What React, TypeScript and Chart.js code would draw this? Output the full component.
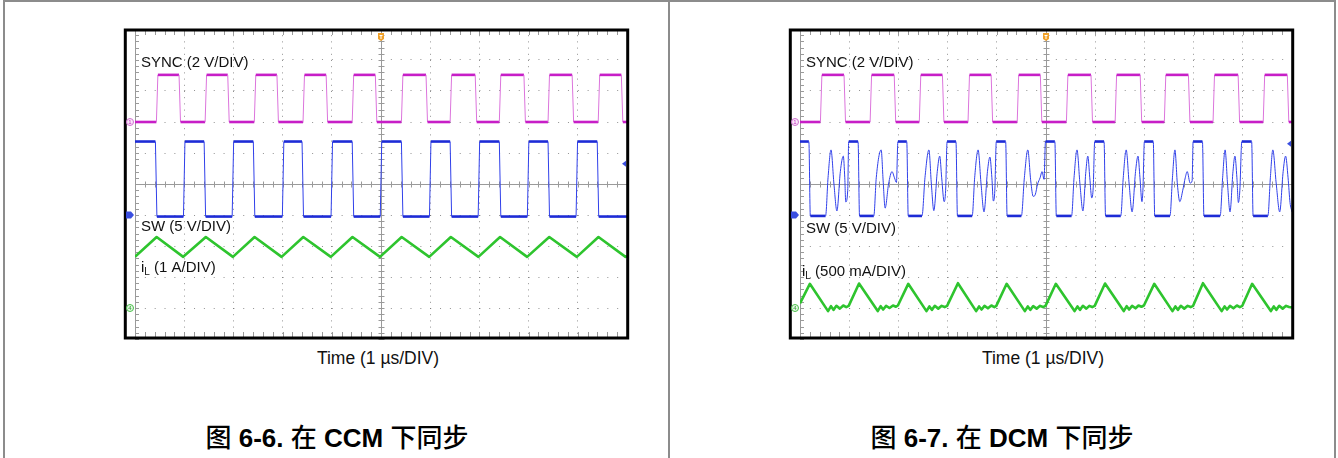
import React, { useEffect, useRef } from "react";
import { Chart, registerables } from "chart.js";

Chart.register(...registerables);

// ---------------- data (units: graticule divisions; x: 1 µs/DIV) ----------------
// CCM panel
const ccmSyncLevels = [2.0, 3.52]; // [low, high]
const ccmSyncRise = [-4.55, -3.56, -2.56, -1.57, -0.57, 0.43, 1.42, 2.42, 3.41, 4.43];
const ccmSyncFall = [-4.09, -3.1, -2.1, -1.1, -0.1, 0.93, 1.93, 2.92, 3.9, 4.9];
const ccmSwLevels = [-1.05, 1.37];
const ccmSwRise = [-4.0, -3.01, -1.99, -1.0, 0.0, 1.0, 1.99, 2.99, 3.98];
const ccmSwFall = [-4.57, -3.58, -2.58, -1.59, -0.57, 0.43, 1.42, 2.42, 3.41, 4.41];
const ccmIlT = [-5.0, -4.56, -4.02, -3.56, -3.01, -2.57, -2.02, -1.58, -1.02, -0.58, -0.02, 0.42, 0.98, 1.42, 1.98, 2.42, 2.97, 3.42, 3.98, 4.42, 4.97, 5.0];
const ccmIlV = [-2.35, -1.71, -2.35, -1.71, -2.35, -1.71, -2.35, -1.71, -2.35, -1.71, -2.35, -1.71, -2.35, -1.71, -2.35, -1.71, -2.35, -1.71, -2.35, -1.71, -2.35, -2.33];

// DCM panel
const dcmSyncLevels = [2.0, 3.52];
const dcmSyncRise = [-4.57, -3.56, -2.56, -1.57, -0.57, 0.43, 1.42, 2.42, 3.41, 4.43];
const dcmSyncFall = [-4.09, -3.07, -2.09, -1.1, -0.1, 0.93, 1.93, 2.91, 3.92, 4.92];
const dcmSwT = [
  -5.0, -4.82, -4.79, -4.48, -4.43, -4.37, -4.31, -4.25, -4.18, -4.12, -4.09, -4.07, -4.03, -4.01,
  -3.82, -3.79, -3.5, -3.45, -3.35, -3.31, -3.27, -3.2, -3.13, -3.08, -3.04, -3.01,
  -2.83, -2.8, -2.52, -2.46, -2.38, -2.33, -2.28, -2.21, -2.16, -2.12, -2.07, -2.04, -2.01,
  -1.83, -1.8, -1.5, -1.45, -1.38, -1.32, -1.26, -1.19, -1.14, -1.1, -1.07, -1.04, -1.01,
  -0.82, -0.79, -0.5, -0.44, -0.37, -0.31, -0.26, -0.22, -0.17, -0.12, -0.08, -0.04, -0.01,
  0.18, 0.21, 0.52, 0.57, 0.63, 0.69, 0.75, 0.81, 0.85, 0.89, 0.93, 0.96, 0.99,
  1.18, 1.21, 1.52, 1.57, 1.63, 1.69, 1.75, 1.82, 1.87, 1.91, 1.95, 1.97, 2.0,
  2.18, 2.21, 2.52, 2.57, 2.62, 2.67, 2.72, 2.78, 2.83, 2.87, 2.93, 2.97, 2.99,
  3.18, 3.21, 3.54, 3.59, 3.64, 3.69, 3.74, 3.8, 3.84, 3.88, 3.91, 3.94, 3.98,
  4.18, 4.21, 4.51, 4.56, 4.61, 4.68, 4.75, 4.82, 4.87, 4.92, 4.96, 5.0,
];
const dcmSwV = [
  1.37, 1.37, -1.03, -1.03, 0.2, 1.1, 0.0, -0.87, 0.4, 0.9, 0.2, -0.58, -0.2, 1.37,
  1.37, -1.03, -1.03, 0.2, 1.1, 0.1, -0.78, 0.0, 0.4, 0.2, 0.05, 1.37,
  1.37, -1.03, -1.03, 0.2, 1.1, 0.0, -0.86, 0.4, 0.9, 0.2, -0.57, -0.2, 1.37,
  1.37, -1.03, -1.03, 0.2, 1.1, 0.0, -0.9, 0.4, 0.87, 0.2, -0.55, -0.2, 1.37,
  1.37, -1.03, -1.03, 0.2, 1.1, 0.1, -0.4, -0.35, 0.0, 0.2, 0.4, 0.15, 1.37,
  1.37, -1.03, -1.03, 0.2, 1.1, 0.0, -0.87, 0.4, 0.9, 0.2, -0.45, -0.1, 1.37,
  1.37, -1.03, -1.03, 0.2, 1.1, 0.0, -0.9, 0.4, 0.9, 0.2, -0.57, -0.2, 1.37,
  1.37, -1.03, -1.03, 0.2, 1.1, 0.0, -0.57, -0.2, 0.2, 0.4, 0.03, 0.1, 1.37,
  1.37, -1.03, -1.03, 0.2, 1.1, 0.0, -0.9, 0.4, 0.9, 0.2, -0.6, -0.2, 1.37,
  1.37, -1.03, -1.03, 0.2, 1.1, 0.0, -0.9, 0.4, 0.9, 0.2, -0.6, -0.9,
];
const dcmIlT = [
  -5.0, -4.8, -4.43, -4.37, -4.32, -4.26, -4.19, -4.12, -4.06, -4.01,
  -3.8, -3.42, -3.36, -3.31, -3.25, -3.18, -3.11, -3.05, -3.01,
  -2.8, -2.43, -2.37, -2.32, -2.26, -2.19, -2.12, -2.06, -2.01,
  -1.79, -1.42, -1.36, -1.31, -1.25, -1.18, -1.11, -1.05, -1.01,
  -0.8, -0.43, -0.37, -0.32, -0.26, -0.19, -0.12, -0.06, -0.01,
  0.2, 0.58, 0.64, 0.69, 0.75, 0.82, 0.88, 0.94, 0.99,
  1.2, 1.58, 1.64, 1.69, 1.75, 1.82, 1.88, 1.94, 1.99,
  2.2, 2.57, 2.63, 2.68, 2.74, 2.81, 2.88, 2.94, 2.99,
  3.19, 3.57, 3.63, 3.68, 3.74, 3.81, 3.88, 3.94, 3.99,
  4.19, 4.57, 4.63, 4.68, 4.74, 4.81, 4.88, 4.94, 5.0,
];
const dcmIlV = [
  -3.85, -3.22, -4.1, -3.94, -4.06, -3.93, -4.02, -3.92, -3.97, -3.93,
  -3.21, -4.1, -3.94, -4.05, -3.93, -4.0, -3.92, -3.96, -3.92,
  -3.22, -4.1, -3.95, -4.06, -3.93, -4.02, -3.93, -3.97, -3.93,
  -3.2, -4.1, -3.95, -4.05, -3.93, -4.01, -3.92, -3.97, -3.93,
  -3.22, -4.1, -3.95, -4.06, -3.94, -4.02, -3.93, -3.97, -3.93,
  -3.22, -4.1, -3.95, -4.06, -3.93, -4.02, -3.93, -3.97, -3.93,
  -3.21, -4.1, -3.94, -4.05, -3.93, -4.01, -3.92, -3.96, -3.92,
  -3.22, -4.1, -3.95, -4.06, -3.93, -4.02, -3.93, -3.97, -3.93,
  -3.2, -4.1, -3.95, -4.05, -3.93, -4.01, -3.92, -3.97, -3.93,
  -3.22, -4.1, -3.95, -4.06, -3.93, -4.02, -3.93, -3.97, -3.98,
];

// text
const ccmLabels = ["SYNC (2 V/DIV)", "SW (5 V/DIV)", " (1 A/DIV)"];
const dcmLabels = ["SYNC (2 V/DIV)", "SW (5 V/DIV)", " (500 mA/DIV)"];
const xAxisLabel = "Time (1 µs/DIV)";
const captions = ["图 6-6. 在 CCM 下同步", "图 6-7. 在 DCM 下同步"];

// ---------------- helpers ----------------
const FONT = '"Liberation Sans", Arial, Helvetica, sans-serif';
const COLORS = {
  syncFlat: "#c71ec7",
  syncEdge: "#dc74dc",
  swFlat: "#1d2bd6",
  swEdge: "#3040ea",
  il: "#2ec42e",
  grid: "rgba(110,110,110,0.75)",
  axis: "#9a9a9a",
};

type Pt = { x: number; y: number };

function zipPoints(t: number[], v: number[]): Pt[] {
  return t.map((x, i) => ({ x, y: v[i] }));
}

function stepPoints(rises: number[], falls: number[], levels: number[], startHigh: boolean): Pt[] {
  const [lo, hi] = levels;
  const half = 0.015;
  const ev = [
    ...rises.map((t) => ({ t, up: true })),
    ...falls.map((t) => ({ t, up: false })),
  ].sort((a, b) => a.t - b.t);
  const pts: Pt[] = [{ x: -5, y: startHigh ? hi : lo }];
  for (const e of ev) {
    pts.push({ x: e.t - half, y: e.up ? lo : hi });
    pts.push({ x: e.t + half, y: e.up ? hi : lo });
  }
  pts.push({ x: 5, y: pts[pts.length - 1].y });
  return pts;
}

const isFlat = (c: any) => Math.abs(c.p0.parsed.y - c.p1.parsed.y) < 1e-9;
const segStyle = (flat: string, edge: string) => ({
  borderColor: (c: any) => (isFlat(c) ? flat : edge),
  borderWidth: (c: any) => (isFlat(c) ? 2.6 : 1),
});

type PanelSpec = {
  sync: Pt[];
  sw: Pt[];
  swSmooth: boolean;
  il: Pt[];
  labels: string[];
  labelPos: { x: number; y: number }[]; // pixel offsets from graticule top-left
  rightMarker: number; // division value
};

function makeDeco(spec: PanelSpec) {
  return {
    id: "scopeDeco",
    beforeDatasetsDraw(chart: any) {
      const { ctx, chartArea: a, scales } = chart;
      const xs = scales.x;
      const ys = scales.y;
      ctx.save();
      ctx.strokeStyle = COLORS.axis;
      ctx.lineWidth = 1;
      const ln = (x1: number, y1: number, x2: number, y2: number) => {
        ctx.beginPath();
        ctx.moveTo(x1, y1);
        ctx.lineTo(x2, y2);
        ctx.stroke();
      };
      const cx = Math.round(xs.getPixelForValue(0)) + 0.5;
      const cy = Math.round(ys.getPixelForValue(0)) + 0.5;
      ln(a.left, cy, a.right, cy);
      ln(cx, a.top, cx, a.bottom);
      ln(a.left + 0.5, a.top, a.left + 0.5, a.bottom);
      for (let i = -25; i <= 25; i++) {
        const v = i * 0.2;
        const px = Math.round(xs.getPixelForValue(v)) + 0.5;
        ln(px, cy - 3, px, cy + 3);
        ln(px, a.bottom - 7, px, a.bottom);
        ln(px, a.top, px, a.top + 6);
        const py = Math.round(ys.getPixelForValue(v)) + 0.5;
        ln(cx - 3, py, cx + 3, py);
        ln(a.left, py, a.left + 4, py);
      }
      ctx.restore();
    },
    afterDatasetsDraw(chart: any) {
      const { ctx, chartArea: a, scales } = chart;
      const xs = scales.x;
      const ys = scales.y;
      ctx.save();
      // frame
      ctx.strokeStyle = "#000";
      ctx.lineWidth = 3;
      ctx.strokeRect(a.left - 9.7, a.top + 1, a.right + 0.7 - (a.left - 9.7), a.bottom - 1 - (a.top + 1));

      // channel markers
      const mx = a.left - 5;
      const p1 = ys.getPixelForValue(2.0);
      ctx.lineWidth = 1;
      ctx.strokeStyle = "#d070d0";
      ctx.fillStyle = "#fbe8fb";
      ctx.beginPath();
      ctx.arc(mx, p1, 3.5, 0, Math.PI * 2);
      ctx.fill();
      ctx.stroke();
      ctx.fillStyle = "#c030c0";
      ctx.font = `6px ${FONT}`;
      ctx.textAlign = "center";
      ctx.textBaseline = "middle";
      ctx.fillText("1", mx, p1 + 0.5);

      const p2 = ys.getPixelForValue(-1.0);
      ctx.fillStyle = "#3a4ee0";
      ctx.beginPath();
      ctx.moveTo(mx - 4, p2 - 3.5);
      ctx.lineTo(mx + 1, p2 - 3.5);
      ctx.lineTo(mx + 4, p2);
      ctx.lineTo(mx + 1, p2 + 3.5);
      ctx.lineTo(mx - 4, p2 + 3.5);
      ctx.closePath();
      ctx.fill();

      const p4 = ys.getPixelForValue(-4.0);
      ctx.strokeStyle = "#48c048";
      ctx.fillStyle = "#e8f8e8";
      ctx.beginPath();
      ctx.arc(mx, p4, 3.5, 0, Math.PI * 2);
      ctx.fill();
      ctx.stroke();
      ctx.fillStyle = "#30a030";
      ctx.fillText("4", mx, p4 + 0.5);

      // trigger marker
      const tx = xs.getPixelForValue(0);
      ctx.fillStyle = "#f0a028";
      ctx.beginPath();
      ctx.moveTo(tx - 3, a.top + 4);
      ctx.lineTo(tx + 3, a.top + 4);
      ctx.lineTo(tx + 3, a.top + 10);
      ctx.lineTo(tx, a.top + 12);
      ctx.lineTo(tx - 3, a.top + 10);
      ctx.closePath();
      ctx.fill();
      ctx.fillStyle = "#fff";
      ctx.fillRect(tx - 1.5, a.top + 6, 3, 1);
      ctx.fillRect(tx - 0.5, a.top + 6, 1, 4);

      // right offset marker
      const rm = ys.getPixelForValue(spec.rightMarker);
      ctx.fillStyle = "#3a4ee0";
      ctx.beginPath();
      ctx.moveTo(a.right - 5, rm);
      ctx.lineTo(a.right - 1, rm - 3);
      ctx.lineTo(a.right - 1, rm + 3);
      ctx.closePath();
      ctx.fill();

      // trace labels
      ctx.fillStyle = "#111";
      ctx.textAlign = "left";
      ctx.textBaseline = "middle";
      ctx.font = `15px ${FONT}`;
      ctx.fillText(spec.labels[0], a.left + spec.labelPos[0].x, a.top + spec.labelPos[0].y);
      ctx.fillText(spec.labels[1], a.left + spec.labelPos[1].x, a.top + spec.labelPos[1].y);
      let lx = a.left + spec.labelPos[2].x;
      const ly = a.top + spec.labelPos[2].y;
      ctx.fillText("i", lx, ly);
      lx += ctx.measureText("i").width;
      ctx.font = `10px ${FONT}`;
      ctx.fillText("L", lx, ly + 4);
      lx += ctx.measureText("L").width;
      ctx.font = `15px ${FONT}`;
      ctx.fillText(spec.labels[2], lx, ly);
      ctx.restore();
    },
  };
}

function buildConfig(spec: PanelSpec): any {
  return {
    type: "line",
    data: {
      datasets: [
        {
          label: "SYNC",
          data: spec.sync,
          borderColor: COLORS.syncFlat,
          borderWidth: 1,
          pointRadius: 0,
          segment: segStyle(COLORS.syncFlat, COLORS.syncEdge),
        },
        {
          label: "SW",
          data: spec.sw,
          borderColor: COLORS.swFlat,
          borderWidth: 1,
          pointRadius: 0,
          cubicInterpolationMode: spec.swSmooth ? "monotone" : "default",
          tension: 0,
          segment: segStyle(COLORS.swFlat, COLORS.swEdge),
        },
        {
          label: "iL",
          data: spec.il,
          borderColor: COLORS.il,
          borderWidth: 2.6,
          pointRadius: 0,
          borderJoinStyle: "round",
        },
      ],
    },
    options: {
      responsive: false,
      animation: false,
      events: [],
      layout: { padding: { left: 15, right: 8, top: 5, bottom: 5 } },
      scales: {
        x: {
          type: "linear",
          min: -5,
          max: 5,
          ticks: { display: false, stepSize: 1 },
          grid: {
            drawTicks: false,
            lineWidth: 1,
            color: (c: any) => (c.tick && (c.tick.value === 0 || Math.abs(c.tick.value) === 5) ? "rgba(0,0,0,0)" : COLORS.grid),
          },
          border: { display: false, dash: [1, 5.2] },
        },
        y: {
          type: "linear",
          min: -5,
          max: 5,
          ticks: { display: false, stepSize: 1 },
          grid: {
            drawTicks: false,
            lineWidth: 1,
            color: (c: any) => (c.tick && (c.tick.value === 0 || Math.abs(c.tick.value) === 5) ? "rgba(0,0,0,0)" : COLORS.grid),
          },
          border: { display: false, dash: [1, 8.84] },
        },
      },
      plugins: {
        legend: { display: false },
        tooltip: { enabled: false },
        title: { display: false },
      },
    },
    plugins: [makeDeco(spec)],
  };
}

const ccmSpec: PanelSpec = {
  sync: stepPoints(ccmSyncRise, ccmSyncFall, ccmSyncLevels, false),
  sw: stepPoints(ccmSwRise, ccmSwFall, ccmSwLevels, true),
  swSmooth: false,
  il: zipPoints(ccmIlT, ccmIlV),
  labels: ccmLabels,
  labelPos: [
    { x: 6, y: 34 },
    { x: 6, y: 198 },
    { x: 6, y: 239 },
  ],
  rightMarker: 0.65,
};

const dcmSpec: PanelSpec = {
  sync: stepPoints(dcmSyncRise, dcmSyncFall, dcmSyncLevels, false),
  sw: zipPoints(dcmSwT, dcmSwV),
  swSmooth: true,
  il: zipPoints(dcmIlT, dcmIlV),
  labels: dcmLabels,
  labelPos: [
    { x: 6, y: 34 },
    { x: 6, y: 200 },
    { x: 2, y: 243 },
  ],
  rightMarker: 1.3,
};

function ScopePanel({ spec, left }: { spec: PanelSpec; left: number }) {
  const ref = useRef<HTMLCanvasElement>(null);
  useEffect(() => {
    const chart = new Chart(ref.current as HTMLCanvasElement, buildConfig(spec));
    return () => chart.destroy();
  }, [spec]);
  return (
    <canvas
      ref={ref}
      width={515}
      height={320}
      style={{ position: "absolute", left, top: 24, width: 515, height: 320 }}
    />
  );
}

const lineStyle = (l: number, t: number, w: number, h: number): React.CSSProperties => ({
  position: "absolute",
  left: l,
  top: t,
  width: w,
  height: h,
  background: "#8c8c8c",
});

function Caption({ text }: { text: string }) {
  // CJK runs in regular weight, Latin runs in bold
  const runs = text.match(/[\u3400-\u9fff]+|[^\u3400-\u9fff]+/g) || [text];
  return (
    <>
      {runs.map((r, i) =>
        /[\u3400-\u9fff]/.test(r) ? (
          <span key={i} style={{ fontWeight: 500, fontFamily: '"Noto Sans CJK SC", sans-serif' }}>
            {r}
          </span>
        ) : (
          <span key={i} style={{ fontWeight: "bold" }}>
            {r}
          </span>
        )
      )}
    </>
  );
}

export default function App() {
  return (
    <div
      style={{
        position: "absolute",
        left: 0,
        top: 0,
        width: 1338,
        height: 458,
        overflow: "hidden",
        background: "#fff",
        fontFamily: FONT,
      }}
    >
      {/* table borders */}
      <div style={lineStyle(3, 0, 1333, 2)} />
      <div style={lineStyle(3, 0, 2, 458)} />
      <div style={lineStyle(668, 0, 2, 458)} />
      <div style={lineStyle(1334, 0, 2, 458)} />

      <ScopePanel spec={ccmSpec} left={120} />
      <ScopePanel spec={dcmSpec} left={785} />

      {[0, 665].map((off, i) => (
        <div
          key={"t" + i}
          style={{
            position: "absolute",
            left: off + 228,
            top: 347,
            width: 300,
            height: 22,
            lineHeight: "22px",
            textAlign: "center",
            fontSize: 17.5,
            color: "#111",
          }}
        >
          {xAxisLabel}
        </div>
      ))}
      {[5, 670].map((l, i) => (
        <div
          key={"c" + i}
          style={{
            position: "absolute",
            left: l,
            top: 419,
            width: 664,
            height: 34,
            lineHeight: "34px",
            textAlign: "center",
            fontSize: 26,
            color: "#000",
            fontFamily: '"Liberation Sans", Arial, "Noto Sans CJK SC", sans-serif',
          }}
        >
          <Caption text={captions[i]} />
        </div>
      ))}
    </div>
  );
}
